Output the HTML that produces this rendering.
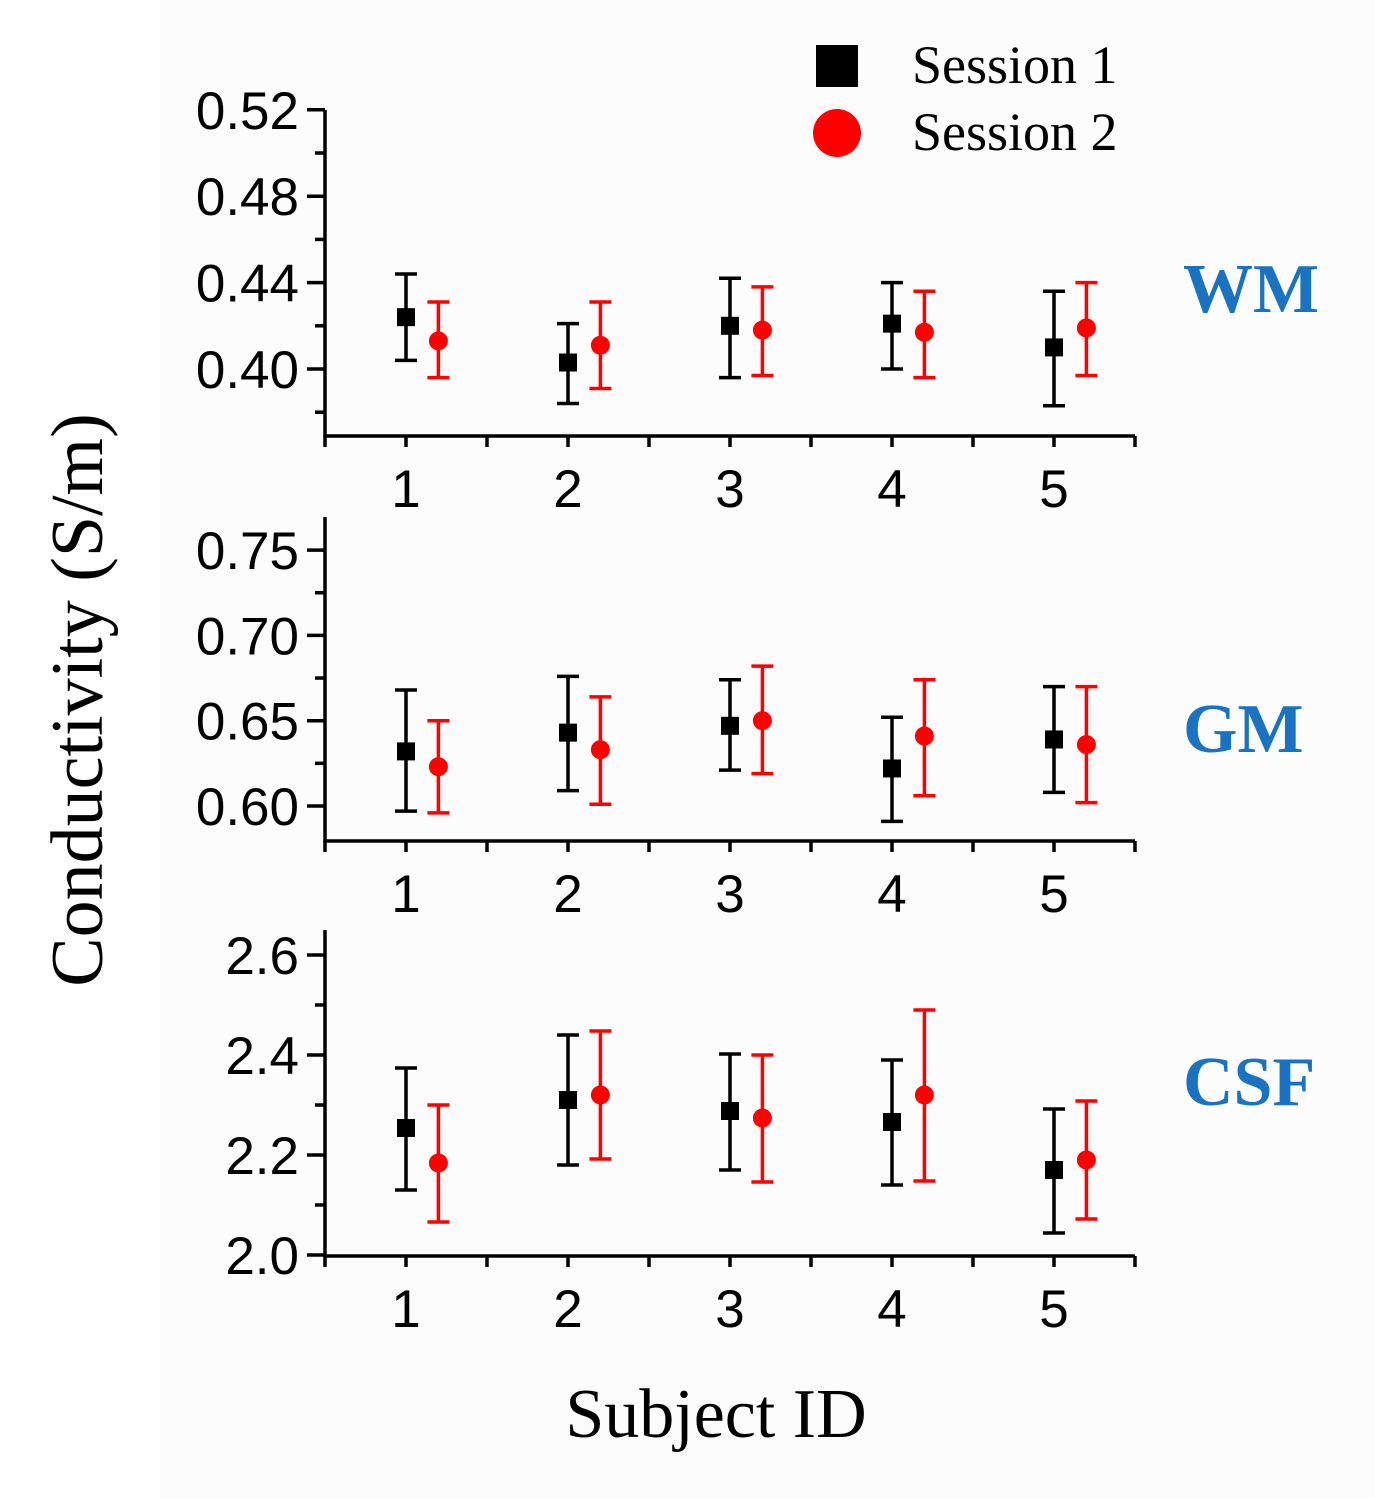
<!DOCTYPE html>
<html><head><meta charset="utf-8"><style>
html,body{margin:0;padding:0;background:#fff}
svg{display:block}
</style></head><body>
<svg id="chart" width="1375" height="1498" viewBox="0 0 1375 1498" xmlns="http://www.w3.org/2000/svg">
<rect x="0" y="0" width="1375" height="1498" fill="#fff"/>
<rect x="160" y="0" width="1215" height="1498" fill="#fcfcfc"/>
<text x="102" y="700" font-family="Liberation Serif, serif" font-size="74" text-anchor="middle" transform="rotate(-90 102 700)">Conductivity (S/m)</text>
<text x="716" y="1437" font-family="Liberation Serif, serif" font-size="70" text-anchor="middle">Subject ID</text>
<g>
<rect x="816" y="45" width="42" height="42" fill="#000"/>
<text x="912" y="83" font-family="Liberation Serif, serif" font-size="54">Session 1</text>
<circle cx="837" cy="133" r="24" fill="#f00"/>
<text x="912" y="150" font-family="Liberation Serif, serif" font-size="54">Session 2</text>
</g>
<g id="panels"></g>
</svg>
<script>
const subjects = [1, 2, 3, 4, 5];
const wmS1 = [0.424, 0.403, 0.420, 0.421, 0.410];
const wmS1Hi = [0.444, 0.421, 0.442, 0.440, 0.436];
const wmS1Lo = [0.404, 0.384, 0.396, 0.400, 0.383];
const wmS2 = [0.413, 0.411, 0.418, 0.417, 0.419];
const wmS2Hi = [0.431, 0.431, 0.438, 0.436, 0.440];
const wmS2Lo = [0.396, 0.391, 0.397, 0.396, 0.397];
const gmS1 = [0.632, 0.643, 0.647, 0.622, 0.639];
const gmS1Hi = [0.668, 0.676, 0.674, 0.652, 0.670];
const gmS1Lo = [0.597, 0.609, 0.621, 0.591, 0.608];
const gmS2 = [0.623, 0.633, 0.650, 0.641, 0.636];
const gmS2Hi = [0.650, 0.664, 0.682, 0.674, 0.670];
const gmS2Lo = [0.596, 0.601, 0.619, 0.606, 0.602];
const csfS1 = [2.254, 2.310, 2.288, 2.266, 2.170];
const csfS1Hi = [2.374, 2.440, 2.402, 2.390, 2.292];
const csfS1Lo = [2.130, 2.180, 2.170, 2.140, 2.044];
const csfS2 = [2.184, 2.320, 2.274, 2.320, 2.190];
const csfS2Hi = [2.300, 2.448, 2.400, 2.490, 2.308];
const csfS2Lo = [2.066, 2.192, 2.146, 2.148, 2.072];
const wmTicks = ["0.40", "0.44", "0.48", "0.52"];
const gmTicks = ["0.60", "0.65", "0.70", "0.75"];
const csfTicks = ["2.0", "2.2", "2.4", "2.6"];
const xTickLabels = ["1", "2", "3", "4", "5"];

const NS = "http://www.w3.org/2000/svg";
const root = document.getElementById("panels");
function mk(tag, attrs, parent) {
  const e = document.createElementNS(NS, tag);
  for (const k in attrs) e.setAttribute(k, attrs[k]);
  parent.appendChild(e);
  return e;
}
const X0 = 325, X1 = 1135, XMIN = 0.5, XMAX = 5.5;
const xs = v => X0 + (v - XMIN) / (XMAX - XMIN) * (X1 - X0);

const panels = [
  {name: "wm", label: "WM", top: 110, bottom: 436, ymax: 0.52, ticks: wmTicks,
   s1: wmS1, s1h: wmS1Hi, s1l: wmS1Lo, s2: wmS2, s2h: wmS2Hi, s2l: wmS2Lo, labelY: 312, labelX: 1183},
  {name: "gm", label: "GM", top: 517, bottom: 841, ymax: 0.77, ticks: gmTicks,
   s1: gmS1, s1h: gmS1Hi, s1l: gmS1Lo, s2: gmS2, s2h: gmS2Hi, s2l: gmS2Lo, labelY: 752, labelX: 1183},
  {name: "csf", label: "CSF", top: 930, bottom: 1256, ymax: 2.65, ticks: csfTicks,
   s1: csfS1, s1h: csfS1Hi, s1l: csfS1Lo, s2: csfS2, s2h: csfS2Hi, s2l: csfS2Lo, labelY: 1105, labelX: 1183}
];
panels[0].y = v => 369 - (v - 0.40) / 0.04 * 86.4;
panels[1].y = v => 806 - (v - 0.60) / 0.05 * 85.3;
panels[2].y = v => 1255 - (v - 2.0) / 0.2 * 100;

panels.forEach(p => {
  const g = mk("g", {}, root);
  
  
  const ax = mk("path", {d: `M${X0} ${p.top} V${p.bottom} H${X1}`, stroke: "#000", "stroke-width": 3.5, fill: "none"}, g);
  
  
  const tv = p.ticks.map(Number);
  const step = tv[1] - tv[0];
  for (let i = 0; i < tv.length; i++) {
    const yy = p.y(tv[i]);
    const t = mk("line", {x1: X0 - 18, x2: X0, y1: yy, y2: yy, stroke: "#000", "stroke-width": 3.5}, g);
    
    
    const tx = mk("text", {x: X0 - 26, y: yy + 19, "text-anchor": "end", "font-family": "Liberation Sans, sans-serif", "font-size": 53}, g);
    tx.textContent = p.ticks[i];
    
    
  }
  for (let v = tv[0] - step / 2; v < p.ymax + 1e-9; v += step) {
    const yy = p.y(v);
    if (yy < p.top - 1 || yy > p.bottom - 3) continue;
    if (tv.some(t => Math.abs(t - v) < 1e-6)) continue;
    const m = mk("line", {x1: X0 - 10, x2: X0, y1: yy, y2: yy, stroke: "#000", "stroke-width": 3.5}, g);
    
    
  }
  for (let v = 0.5; v <= 5.5; v += 0.5) {
    const xx = xs(v);
    const t = mk("line", {x1: xx, x2: xx, y1: p.bottom, y2: p.bottom + 11, stroke: "#000", "stroke-width": 3.5}, g);
    
    
  }
  subjects.forEach((s, i) => {
    const tx = mk("text", {x: xs(s), y: p.bottom + 71, "text-anchor": "middle", "font-family": "Liberation Sans, sans-serif", "font-size": 53}, g);
    tx.textContent = xTickLabels[i];
    
    
  });
  subjects.forEach((s, i) => {
    [[p.s1, p.s1h, p.s1l, 0, "#000", "session-1"], [p.s2, p.s2h, p.s2l, 0.2, "#f00", "session-2"]].forEach(([m, h, l, off, col, nm]) => {
      const cx = xs(s + off);
      const eb = mk("path", {d: `M${cx} ${p.y(h[i])} V${p.y(l[i])} M${cx - 11} ${p.y(h[i])} H${cx + 11} M${cx - 11} ${p.y(l[i])} H${cx + 11}`, stroke: col, "stroke-width": 3.5, fill: "none"}, g);
      
      
      let mark;
      if (nm === "session-1") mark = mk("rect", {x: cx - 9, y: p.y(m[i]) - 9, width: 18, height: 18, fill: col}, g);
      else mark = mk("circle", {cx: cx, cy: p.y(m[i]), r: 9.5, fill: col}, g);
      
      
    });
  });
  const lab = mk("text", {x: p.labelX, y: p.labelY, "font-family": "Liberation Serif, serif", "font-weight": "bold", "font-size": 70, fill: "#1a73c0"}, g);
  lab.textContent = p.label;
  
  
});
</script>
</body></html>
